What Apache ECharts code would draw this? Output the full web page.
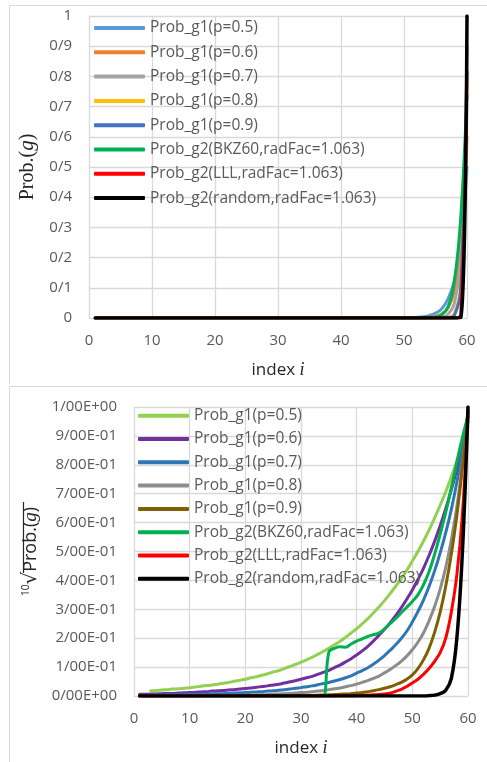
<!DOCTYPE html>
<html>
<head>
<meta charset="utf-8">
<script src="https://cdn.jsdelivr.net/npm/echarts@6/dist/echarts.min.js"></script>
<style>
  html, body { margin: 0; padding: 0; background: #fff; }
  #chart1 { position: absolute; left: 0; top: 0; width: 487px; height: 384px; }
  #chart2 { position: absolute; left: 0; top: 384px; width: 487px; height: 378px; }
</style>
</head>
<body>
<div id="chart1"></div>
<div id="chart2"></div>
<script>
// series names, same in both charts
var names = ['Prob_g1(p=0.5)', 'Prob_g1(p=0.6)', 'Prob_g1(p=0.7)', 'Prob_g1(p=0.8)', 'Prob_g1(p=0.9)',
    'Prob_g2(BKZ60,radFac=1.063)', 'Prob_g2(LLL,radFac=1.063)', 'Prob_g2(random,radFac=1.063)'];

var yLabels1 = ['0', '0/1', '0/2', '0/3', '0/4', '0/5', '0/6', '0/7', '0/8', '0/9', '1'];
var yLabels2 = ['0/00E+00', '1/00E-01', '2/00E-01', '3/00E-01', '4/00E-01', '5/00E-01',
    '6/00E-01', '7/00E-01', '8/00E-01', '9/00E-01', '1/00E+00'];

// top chart: Prob.(g), [index, value]
var topP05 = [[1, 0], [50, 0.0005], [51, 0.001], [52, 0.002], [53, 0.004], [54, 0.008], [55, 0.016], [56, 0.031], [57, 0.063], [58, 0.125], [59, 0.25], [60, 0.5]];
var topP06 = [[1, 0], [52, 0], [53, 0.0007], [54, 0.002], [55, 0.005], [56, 0.013], [57, 0.034], [58, 0.089], [59, 0.229], [60, 0.6]];
var topP07 = [[1, 0], [54, 0], [55, 0.001], [56, 0.003], [57, 0.0125], [58, 0.049], [59, 0.186], [60, 0.7]];
var topP08 = [[1, 0], [55, 0], [56, 0.0003], [57, 0.002], [58, 0.015], [59, 0.107], [60, 0.8]];
var topP09 = [[1, 0], [56, 0], [57, 0.0008], [58, 0.009], [59, 0.095], [60, 0.9]];
var topBKZ = [[1, 0], [53, 0], [54, 0.0008], [55, 0.003], [56, 0.011], [57, 0.037], [58, 0.122], [59, 0.33], [60, 0.737]];
var topLLL = [[1, 0], [57, 0], [58, 0.0002], [59, 0.01], [60, 0.817]];
var topRnd = [[1, 0], [58, 0], [59, 0.001], [60, 1]];

// bottom chart: 10th root of Prob.(g), index 1..60
var botP05 = [null, null, 0.018, 0.019, 0.021, 0.022, 0.024, 0.025, 0.027, 0.029,
    0.031, 0.034, 0.036, 0.038, 0.041, 0.044, 0.047, 0.051, 0.054, 0.058,
    0.063, 0.067, 0.072, 0.077, 0.083, 0.088, 0.095, 0.102, 0.109, 0.117,
    0.125, 0.134, 0.144, 0.154, 0.165, 0.177, 0.189, 0.203, 0.218, 0.233,
    0.250, 0.268, 0.287, 0.308, 0.330, 0.354, 0.379, 0.406, 0.435, 0.467,
    0.500, 0.536, 0.574, 0.616, 0.660, 0.707, 0.758, 0.812, 0.871, 0.933];
var botP06 = [0.006, 0.006, 0.007, 0.007, 0.008, 0.009, 0.009, 0.010, 0.011, 0.012,
    0.013, 0.014, 0.015, 0.017, 0.018, 0.019, 0.021, 0.022, 0.024, 0.026,
    0.028, 0.030, 0.033, 0.035, 0.038, 0.041, 0.045, 0.049, 0.053, 0.058,
    0.063, 0.068, 0.075, 0.082, 0.089, 0.098, 0.107, 0.118, 0.129, 0.142,
    0.156, 0.172, 0.190, 0.210, 0.231, 0.253, 0.278, 0.305, 0.335, 0.367,
    0.403, 0.442, 0.486, 0.535, 0.589, 0.648, 0.713, 0.785, 0.863, 0.950];
var botP07 = [0.002, 0.003, 0.003, 0.003, 0.003, 0.004, 0.004, 0.004, 0.005, 0.005,
    0.005, 0.006, 0.006, 0.007, 0.008, 0.008, 0.009, 0.010, 0.011, 0.012,
    0.013, 0.014, 0.015, 0.017, 0.018, 0.020, 0.022, 0.024, 0.027, 0.029,
    0.032, 0.035, 0.039, 0.043, 0.047, 0.052, 0.057, 0.063, 0.070, 0.079,
    0.088, 0.098, 0.110, 0.124, 0.140, 0.158, 0.177, 0.199, 0.224, 0.256,
    0.292, 0.332, 0.379, 0.433, 0.495, 0.565, 0.645, 0.740, 0.845, 0.965];
var botP08 = [0.001, 0.001, 0.001, 0.001, 0.001, 0.001, 0.001, 0.001, 0.001, 0.001,
    0.001, 0.002, 0.002, 0.002, 0.002, 0.002, 0.002, 0.003, 0.003, 0.003,
    0.003, 0.004, 0.004, 0.005, 0.006, 0.007, 0.008, 0.009, 0.010, 0.012,
    0.013, 0.015, 0.017, 0.019, 0.022, 0.025, 0.028, 0.032, 0.036, 0.041,
    0.047, 0.053, 0.061, 0.069, 0.080, 0.092, 0.105, 0.120, 0.138, 0.160,
    0.186, 0.218, 0.260, 0.310, 0.370, 0.445, 0.540, 0.655, 0.800, 0.978];
var botP09 = [0, 0, 0, 0, 0, 0, 0, 0, 0, 0,
    0, 0, 0, 0, 0, 0, 0, 0, 0, 0,
    0.001, 0.001, 0.001, 0.001, 0.001, 0.001, 0.001, 0.001, 0.002, 0.002,
    0.002, 0.002, 0.003, 0.0035, 0.004, 0.005, 0.006, 0.007, 0.008, 0.010,
    0.012, 0.015, 0.018, 0.022, 0.027, 0.032, 0.039, 0.047, 0.058, 0.073,
    0.095, 0.125, 0.165, 0.220, 0.290, 0.380, 0.490, 0.625, 0.790, 0.990];
var botBKZ = [0, 0, 0, 0, 0, 0, 0, 0, 0, 0,
    0, 0, 0, 0, 0, 0, 0, 0, 0, 0,
    0, 0, 0, 0, 0, 0, 0, 0, 0, 0,
    0, 0, 0, 0, 0.152, 0.165, 0.170, 0.169, 0.180, 0.190,
    0.198, 0.206, 0.212, 0.218, 0.232, 0.250, 0.268, 0.288, 0.307, 0.327,
    0.350, 0.385, 0.430, 0.490, 0.560, 0.635, 0.720, 0.810, 0.895, 0.970];
var botLLL = [0, 0, 0, 0, 0, 0, 0, 0, 0, 0,
    0, 0, 0, 0, 0, 0, 0, 0, 0, 0,
    0, 0, 0, 0, 0, 0, 0, 0, 0, 0,
    0, 0, 0, 0, 0, 0, 0.001, 0.001, 0.001, 0.0015,
    0.002, 0.003, 0.004, 0.005, 0.007, 0.010, 0.016, 0.023, 0.033, 0.045,
    0.058, 0.075, 0.095, 0.120, 0.150, 0.200, 0.290, 0.420, 0.630, 0.980];
var botRnd = [0, 0, 0, 0, 0, 0, 0, 0, 0, 0,
    0, 0, 0, 0, 0, 0, 0, 0, 0, 0,
    0, 0, 0, 0, 0, 0, 0, 0, 0, 0,
    0, 0, 0, 0, 0, 0, 0, 0, 0, 0,
    0, 0, 0, 0, 0, 0, 0, 0, 0, 0,
    0, 0, 0.001, 0.003, 0.008, 0.020, 0.060, 0.200, 0.500, 1.000];

var topColors = ['#5B9BD5', '#ED7D31', '#A5A5A5', '#FFC000', '#4472C4', '#00B050', '#FF0000', '#000000'];
var botColors = ['#92D050', '#7030A0', '#2E75B6', '#8C8C8C', '#7F6000', '#00B050', '#FF0000', '#000000'];

var FONT = '"Open Sans", sans-serif';
var grey = '#595959';
var gridColor = '#d9d9d9';

function withIndex(arr) {
    return arr.map(function (v, k) { return [k + 1, v]; });
}

function makeSeries(datas, colors) {
    return datas.map(function (d, k) {
        return {
            name: names[k],
            type: 'line',
            data: d,
            smooth: 0.4,
            showSymbol: false,
            connectNulls: false,
            lineStyle: { width: k === 7 ? 3.5 : 3, color: colors[k], cap: 'round' },
            itemStyle: { color: colors[k] },
            emphasis: { disabled: true },
            animation: false
        };
    });
}

function legendOf(left, top, gap) {
    return {
        orient: 'vertical',
        left: left,
        top: top,
        icon: 'roundRect',
        itemWidth: 51,
        itemHeight: 4,
        itemGap: gap,
        padding: 0,
        selectedMode: false,
        textStyle: { color: grey, fontSize: 15.5, fontFamily: FONT, lineHeight: 16, padding: [0, 0, 0, 0] },
        data: names
    };
}

function xAxisOf() {
    return {
        type: 'value', min: 0, max: 60, interval: 10,
        name: '{a|index }{b|i}',
        nameLocation: 'middle',
        nameGap: 43,
        nameTextStyle: {
            rich: {
                a: { fontSize: 17, fontFamily: FONT, color: '#262626' },
                b: { fontSize: 18, fontFamily: '"Liberation Serif", serif', fontStyle: 'italic', color: '#262626' }
            }
        },
        axisLine: { show: false },
        axisTick: { show: false },
        axisLabel: { color: grey, fontSize: 15, fontFamily: FONT, margin: 15 },
        splitLine: { show: true, lineStyle: { color: gridColor, width: 1.3 } }
    };
}

// ---------- top chart ----------
var chart1 = echarts.init(document.getElementById('chart1'));
chart1.setOption({
    animation: false,
    grid: { left: 89, top: 16, width: 378, height: 302 },
    graphic: [{
        type: 'rect', silent: true,
        shape: { x: 9.5, y: 5.5, width: 500, height: 420 },
        style: { fill: 'none', stroke: gridColor, lineWidth: 1 }
    }],
    legend: legendOf(94, 20, 8.3),
    xAxis: xAxisOf(),
    yAxis: {
        type: 'value', min: 0, max: 1, interval: 0.1,
        name: '{a|Prob.(}{b|g}{a|)}',
        nameLocation: 'middle',
        nameGap: 47,
        nameTextStyle: {
            rich: {
                a: { fontSize: 20, fontFamily: '"Liberation Serif", serif', color: '#262626' },
                b: { fontSize: 21, fontFamily: '"Liberation Serif", serif', fontStyle: 'italic', color: '#262626' }
            }
        },
        axisLine: { show: false },
        axisTick: { show: false },
        axisLabel: {
            color: grey, fontSize: 15, fontFamily: FONT, margin: 17,
            formatter: function (v) { return yLabels1[Math.round(v * 10)]; }
        },
        splitLine: { show: true, lineStyle: { color: gridColor, width: 1.3 } }
    },
    series: makeSeries([topP05, topP06, topP07, topP08, topP09, topBKZ, topLLL, topRnd], topColors)
});

// ---------- bottom chart ----------
var chart2 = echarts.init(document.getElementById('chart2'));
chart2.setOption({
    animation: false,
    grid: { left: 134, top: 23, width: 334, height: 289 },
    graphic: [{
        type: 'rect', silent: true,
        shape: { x: 9.5, y: 2.5, width: 500, height: 420 },
        style: { fill: 'none', stroke: gridColor, lineWidth: 1 }
    }, {
        // overline of the root sign
        type: 'line', silent: true,
        shape: { x1: 23.5, y1: 118, x2: 23.5, y2: 189 },
        style: { stroke: '#262626', lineWidth: 1.2 }
    }],
    legend: legendOf(138, 23.7, 7.3),
    xAxis: xAxisOf(),
    yAxis: {
        type: 'value', min: 0, max: 1, interval: 0.1,
        name: '{s|10}{r|√}{a|Prob.(}{b|g}{a|)}',
        nameLocation: 'middle',
        nameGap: 89,
        nameTextStyle: {
            rich: {
                s: { fontSize: 10, fontFamily: FONT, color: '#262626', verticalAlign: 'top', lineHeight: 12 },
                r: { fontSize: 20, fontFamily: '"DejaVu Sans", sans-serif', color: '#262626' },
                a: { fontSize: 18, fontFamily: FONT, color: '#262626' },
                b: { fontSize: 19, fontFamily: '"Liberation Serif", serif', fontStyle: 'italic', color: '#262626' }
            }
        },
        axisLine: { show: false },
        axisTick: { show: false },
        axisLabel: {
            color: grey, fontSize: 15, fontFamily: FONT, margin: 17,
            formatter: function (v) { return yLabels2[Math.round(v * 10)]; }
        },
        splitLine: { show: true, lineStyle: { color: gridColor, width: 1.3 } }
    },
    series: makeSeries([botP05, botP06, botP07, botP08, botP09, botBKZ, botLLL, botRnd].map(withIndex), botColors)
});
</script>
</body>
</html>
